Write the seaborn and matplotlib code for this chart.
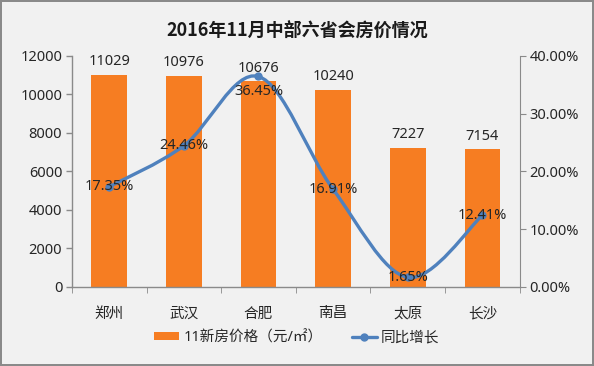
import numpy as np
import pandas as pd
import matplotlib
matplotlib.use("Agg")
import matplotlib.pyplot as plt
from matplotlib.path import Path
from matplotlib.patches import PathPatch, Patch
from matplotlib.lines import Line2D
from matplotlib.ticker import FuncFormatter
import seaborn as sns

# data
cities = ["郑州", "武汉", "合肥", "南昌", "太原", "长沙"]
prices = [11029, 10976, 10676, 10240, 7227, 7154]
growth = [17.35, 24.46, 36.45, 16.91, 1.65, 12.41]  # percent
title = "2016年11月中部六省会房价情况"
bar_name = "11新房价格（元/㎡）"
line_name = "同比增长"

BAR_COLOR = "#f67d22"
LINE_COLOR = "#4f81bd"
BG = "#f1f1f1"
TXT = "#262626"
FS = 10.5

sns.set_style("white")
plt.rcParams["font.family"] = ["Noto Sans", "Noto Sans CJK SC", "DejaVu Sans"]


def smooth_path(xs, ys):
    """Excel-like smoothed line: Catmull-Rom segments as cubic Beziers."""
    pts = np.column_stack([xs, ys]).astype(float)
    n = len(pts)
    verts = [pts[0]]
    codes = [Path.MOVETO]
    for i in range(n - 1):
        p0 = pts[i - 1] if i > 0 else pts[i]
        p1, p2 = pts[i], pts[i + 1]
        p3 = pts[i + 2] if i + 2 < n else pts[i + 1]
        c1 = p1 + (p2 - p0) / 6.0
        c2 = p2 - (p3 - p1) / 6.0
        verts += [c1, c2, p2]
        codes += [Path.CURVE4] * 3
    return Path(verts, codes)


df = pd.DataFrame({"city": cities, "price": prices, "growth": growth})

fig = plt.figure(figsize=(5.94, 3.66), dpi=100, facecolor=BG,
                 edgecolor="#8a8a8a", linewidth=1.5)
ax = fig.add_axes([0.121, 0.216, 0.754, 0.631])
ax.set_facecolor("none")

sns.barplot(data=df, x="city", y="price", color=BAR_COLOR, width=0.48,
            saturation=1, linewidth=0, edgecolor="none", ax=ax)
ax.bar_label(ax.containers[0], labels=[str(v) for v in prices],
             padding=4, fontsize=FS, color=TXT)
ax.set_ylim(0, 12000)
ax.set_yticks(np.arange(0, 12001, 2000))
ax.set_xlim(-0.5, len(cities) - 0.5)
ax.set_xlabel("")
ax.set_ylabel("")
ax.tick_params(axis="y", direction="out", length=4, width=1, color="#8a8a8a",
               labelsize=FS, labelcolor=TXT, pad=3, left=True)
# x ticks sit between the categories, labels under the bars
ax.set_xticks(np.arange(-0.5, len(cities), 1.0), minor=True)
ax.tick_params(axis="x", which="major", length=0, labelsize=FS,
               labelcolor=TXT, pad=14)
ax.tick_params(axis="x", which="minor", direction="out", length=4,
               color="#8a8a8a", bottom=True)
for side in ["top", "right"]:
    ax.spines[side].set_visible(False)
for side in ["left", "bottom"]:
    ax.spines[side].set_color("#8a8a8a")
    ax.spines[side].set_linewidth(1)

ax2 = ax.twinx()
ax2.set_ylim(0, 40)
ax2.set_yticks(np.arange(0, 41, 10))
ax2.yaxis.set_major_formatter(FuncFormatter(lambda v, _: f"{v:.2f}%"))
ax2.tick_params(axis="y", direction="out", length=4, color="#8a8a8a",
                labelsize=FS, labelcolor=TXT, pad=3)
for side in ["top", "left", "bottom"]:
    ax2.spines[side].set_visible(False)
ax2.spines["right"].set_color("#8a8a8a")

xs = np.arange(len(cities))
ax2.add_patch(PathPatch(smooth_path(xs, growth), fill=False,
                        edgecolor=LINE_COLOR, linewidth=2.4,
                        capstyle="round", joinstyle="round"))
ax2.plot(xs, growth, linestyle="none", marker="o", markersize=5,
         color=LINE_COLOR)
label_dy = [0, 0, -11, 0, 0, 0]
for x, g, dy in zip(xs, growth, label_dy):
    ax2.annotate(f"{g:.2f}%", (x, g), xytext=(0, dy), textcoords="offset points",
                 ha="center", va="center", fontsize=FS, color=TXT)

fig.text(0.5, 0.918, title, ha="center", va="center", fontsize=13,
         fontweight="bold", color="#1a1a1a",
         family=["Noto Sans CJK SC", "DejaVu Sans"])

handles = [Patch(facecolor=BAR_COLOR, edgecolor="none"),
           Line2D([0], [0], color=LINE_COLOR, linewidth=2.4, marker="o",
                  markersize=5)]
fig.legend(handles, [bar_name, line_name], loc="center",
           bbox_to_anchor=(0.5, 0.077), ncol=2, frameon=False, fontsize=FS,
           handlelength=1.7, handleheight=0.5, columnspacing=2.0,
           handletextpad=0.3, labelcolor=TXT)

fig.savefig("out.png", dpi=100, facecolor=BG)
